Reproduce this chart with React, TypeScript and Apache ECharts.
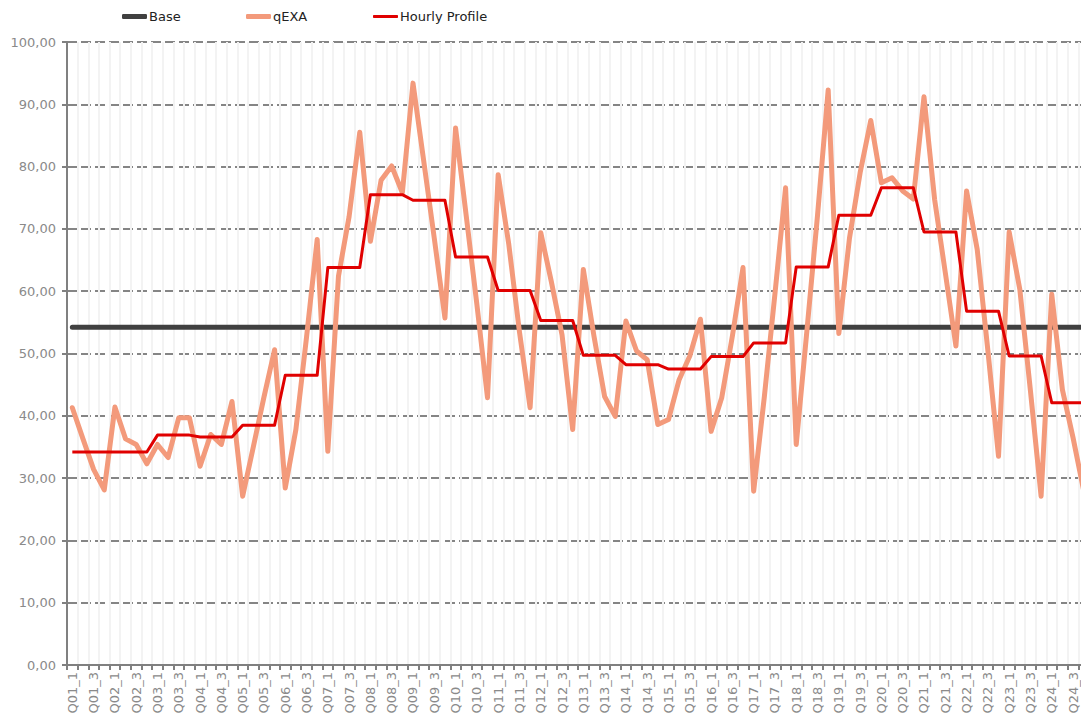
import React, { useEffect, useRef } from "react";
import * as echarts from "echarts";

const categories = [
  "Q01_1","Q01_2","Q01_3","Q01_4","Q02_1","Q02_2","Q02_3","Q02_4",
  "Q03_1","Q03_2","Q03_3","Q03_4","Q04_1","Q04_2","Q04_3","Q04_4",
  "Q05_1","Q05_2","Q05_3","Q05_4","Q06_1","Q06_2","Q06_3","Q06_4",
  "Q07_1","Q07_2","Q07_3","Q07_4","Q08_1","Q08_2","Q08_3","Q08_4",
  "Q09_1","Q09_2","Q09_3","Q09_4","Q10_1","Q10_2","Q10_3","Q10_4",
  "Q11_1","Q11_2","Q11_3","Q11_4","Q12_1","Q12_2","Q12_3","Q12_4",
  "Q13_1","Q13_2","Q13_3","Q13_4","Q14_1","Q14_2","Q14_3","Q14_4",
  "Q15_1","Q15_2","Q15_3","Q15_4","Q16_1","Q16_2","Q16_3","Q16_4",
  "Q17_1","Q17_2","Q17_3","Q17_4","Q18_1","Q18_2","Q18_3","Q18_4",
  "Q19_1","Q19_2","Q19_3","Q19_4","Q20_1","Q20_2","Q20_3","Q20_4",
  "Q21_1","Q21_2","Q21_3","Q21_4","Q22_1","Q22_2","Q22_3","Q22_4",
  "Q23_1","Q23_2","Q23_3","Q23_4","Q24_1","Q24_2","Q24_3","Q24_4",
];

const baseValues = [
  54.2,54.2,54.2,54.2,54.2,54.2,54.2,54.2,54.2,54.2,54.2,54.2,
  54.2,54.2,54.2,54.2,54.2,54.2,54.2,54.2,54.2,54.2,54.2,54.2,
  54.2,54.2,54.2,54.2,54.2,54.2,54.2,54.2,54.2,54.2,54.2,54.2,
  54.2,54.2,54.2,54.2,54.2,54.2,54.2,54.2,54.2,54.2,54.2,54.2,
  54.2,54.2,54.2,54.2,54.2,54.2,54.2,54.2,54.2,54.2,54.2,54.2,
  54.2,54.2,54.2,54.2,54.2,54.2,54.2,54.2,54.2,54.2,54.2,54.2,
  54.2,54.2,54.2,54.2,54.2,54.2,54.2,54.2,54.2,54.2,54.2,54.2,
  54.2,54.2,54.2,54.2,54.2,54.2,54.2,54.2,54.2,54.2,54.2,54.2,
];

const qexaValues = [
  41.3,36.3,31.4,28.1,41.4,36.3,35.4,32.3,
  35.4,33.3,39.7,39.7,31.9,37.0,35.4,42.3,
  27.1,35.0,43.0,50.6,28.4,37.8,52.6,68.3,
  34.3,62.4,72.0,85.5,68.0,77.8,80.1,75.8,
  93.4,81.0,68.5,55.7,86.2,72.1,57.9,42.9,
  78.7,67.5,53.5,41.3,69.4,61.5,53.0,37.8,
  63.5,52.8,43.1,39.9,55.2,50.4,49.0,38.6,
  39.4,45.8,49.6,55.5,37.5,42.9,52.8,63.8,
  27.9,43.0,59.6,76.6,35.4,53.6,72.2,92.3,
  53.2,68.5,79.0,87.4,77.4,78.2,76.1,74.8,
  91.2,74.7,63.0,51.2,76.1,66.7,50.5,33.5,
  69.5,60.3,44.0,27.1,59.5,44.2,36.5,28.0,
];

const hourlyValues = [
  34.2,34.2,34.2,34.2,34.2,34.2,34.2,34.2,
  36.9,36.9,36.9,36.9,36.6,36.6,36.6,36.6,
  38.5,38.5,38.5,38.5,46.5,46.5,46.5,46.5,
  63.8,63.8,63.8,63.8,75.5,75.5,75.5,75.5,
  74.6,74.6,74.6,74.6,65.5,65.5,65.5,65.5,
  60.1,60.1,60.1,60.1,55.3,55.3,55.3,55.3,
  49.7,49.7,49.7,49.7,48.2,48.2,48.2,48.2,
  47.5,47.5,47.5,47.5,49.5,49.5,49.5,49.5,
  51.7,51.7,51.7,51.7,63.9,63.9,63.9,63.9,
  72.2,72.2,72.2,72.2,76.6,76.6,76.6,76.6,
  69.5,69.5,69.5,69.5,56.8,56.8,56.8,56.8,
  49.6,49.6,49.6,49.6,42.1,42.1,42.1,42.1,
];

const FONT = "DejaVu Sans";

export default function App() {
  const ref = useRef<HTMLDivElement>(null);

  useEffect(() => {
    if (!ref.current) return;
    const chart = echarts.init(ref.current, null, { renderer: "svg" });
    const legendText = { color: "#222222", fontSize: 13, fontFamily: FONT };
    const mkLegend = (name: string, left: number, h: number) => ({
      data: [{ name, icon: "roundRect" }],
      left,
      top: 5,
      itemWidth: 25,
      itemHeight: h,
      textStyle: { ...legendText, padding: [0, 0, 0, -3] },
      selectedMode: false,
    });
    chart.setOption({
      animation: false,
      backgroundColor: "#ffffff",
      legend: [
        mkLegend("Base", 117, 5),
        mkLegend("qEXA", 241, 5),
        mkLegend("Hourly Profile", 368, 3),
      ],
      grid: { left: 67, top: 42, right: 11, bottom: 60, containLabel: false },
      xAxis: {
        type: "category",
        data: categories,
        boundaryGap: true,
        axisLine: { lineStyle: { color: "#808080", width: 2 } },
        axisTick: { show: true, interval: 0, length: 5, lineStyle: { color: "#808080", width: 2 } },
        axisLabel: {
          interval: 1,
          rotate: 90,
          color: "#8a8a8a",
          fontSize: 13,
          fontFamily: FONT,
          margin: 7,
        },
        splitLine: { show: true, interval: 0, lineStyle: { color: "#f3f3f3", width: 2 } },
      },
      yAxis: {
        type: "value",
        min: 0,
        max: 100,
        interval: 10,
        axisLine: { show: true, lineStyle: { color: "#808080", width: 2 } },
        axisTick: { show: true, length: 5, lineStyle: { color: "#808080", width: 2 } },
        axisLabel: {
          color: "#8a8a8a",
          fontSize: 13,
          fontFamily: FONT,
          margin: 11,
          formatter: (v: number) => v.toFixed(2).replace(".", ","),
        },
        splitLine: { show: true, lineStyle: { color: "#858585", width: 2, type: [10, 4] } },
      },
      series: [
        {
          name: "Base",
          type: "line",
          data: baseValues,
          symbol: "none",
          color: "#404040",
          lineStyle: { color: "#404040", width: 5, cap: "round" },
        },
        {
          name: "qEXA",
          type: "line",
          data: qexaValues,
          symbol: "none",
          color: "#f39a7b",
          lineStyle: { color: "#f39a7b", width: 5, cap: "round", join: "round" },
        },
        {
          name: "Hourly Profile",
          type: "line",
          data: hourlyValues,
          symbol: "none",
          color: "#e00000",
          lineStyle: { color: "#e00000", width: 3, join: "round" },
        },
      ],
    });
    return () => chart.dispose();
  }, []);

  return (
    <div style={{ position: "fixed", left: 0, top: 0, width: 1081, height: 725, overflow: "hidden", background: "#fff" }}>
      <div ref={ref} style={{ width: 1100, height: 725 }} />
    </div>
  );
}
